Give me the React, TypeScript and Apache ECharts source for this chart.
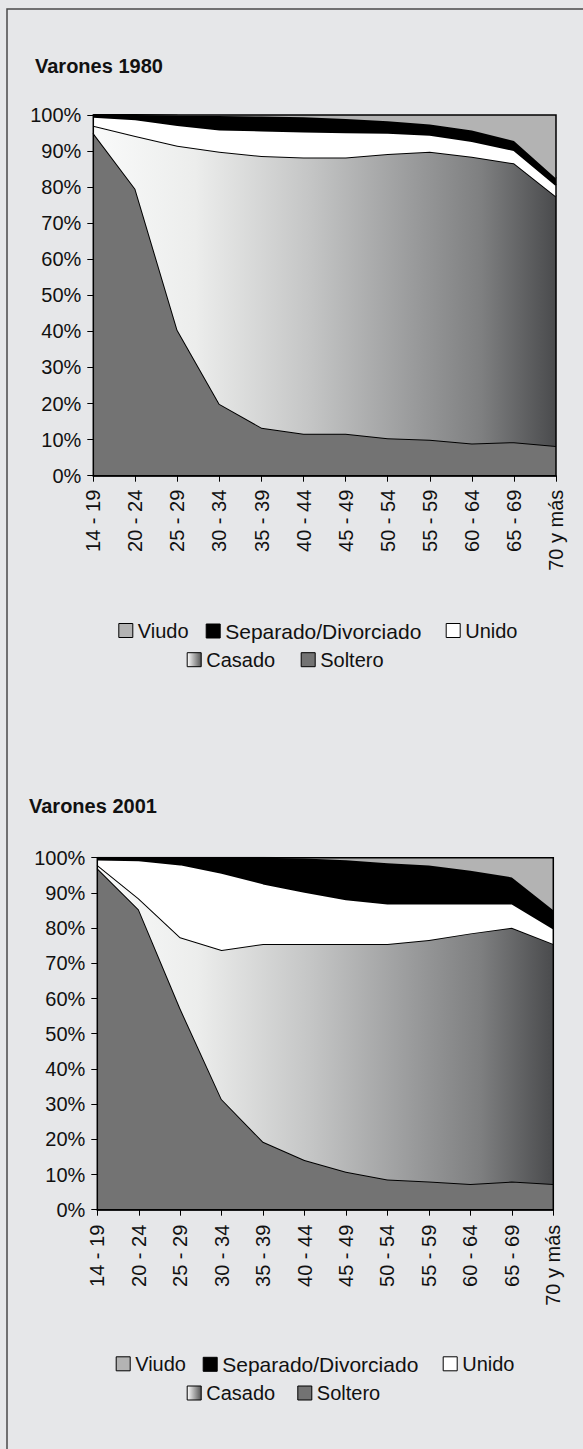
import React, { useEffect, useRef } from 'react';
import * as echarts from 'echarts';

const categories = ['14 - 19', '20 - 24', '25 - 29', '30 - 34', '35 - 39', '40 - 44', '45 - 49', '50 - 54', '55 - 59', '60 - 64', '65 - 69', '70 y más'];
const yTickLabels = ['0%', '10%', '20%', '30%', '40%', '50%', '60%', '70%', '80%', '90%', '100%'];
const seriesNames = ['Soltero', 'Casado', 'Unido', 'Separado/Divorciado', 'Viudo'];
const titles = ['Varones 1980', 'Varones 2001'];

// Varones 1980 (percent of each age group)
const soltero1980 = [95.0, 79.5, 40.4, 19.9, 13.3, 11.6, 11.6, 10.4, 10.0, 8.9, 9.3, 8.2];
const casado1980 = [2.0, 14.7, 51.1, 69.9, 75.3, 76.6, 76.6, 78.8, 79.8, 79.5, 77.3, 69.2];
const unido1980 = [2.5, 4.6, 5.7, 6.2, 7.1, 7.2, 7.0, 5.9, 4.7, 4.4, 3.7, 3.2];
const separado1980 = [0.5, 1.2, 2.6, 3.7, 3.9, 4.0, 3.7, 3.2, 2.9, 2.9, 2.5, 1.8];
const viudo1980 = [0, 0, 0.2, 0.3, 0.4, 0.6, 1.1, 1.7, 2.6, 4.3, 7.2, 17.6];

// Varones 2001
const soltero2001 = [97.0, 85.3, 57.2, 31.4, 19.3, 14.1, 10.8, 8.6, 8.0, 7.3, 8.0, 7.3];
const casado2001 = [0.9, 3.1, 20.2, 42.4, 56.2, 61.4, 64.7, 66.9, 68.6, 71.2, 72.1, 68.2];
const unido2001 = [1.6, 10.9, 20.7, 21.9, 17.2, 14.8, 12.7, 11.5, 10.4, 8.5, 6.9, 4.4];
const separado2001 = [0.5, 0.7, 1.9, 4.3, 7.3, 9.5, 11.1, 11.4, 10.8, 9.3, 7.4, 5.2];
const viudo2001 = [0, 0, 0, 0, 0, 0.2, 0.7, 1.6, 2.2, 3.7, 5.6, 14.9];

const FONT = '"Liberation Sans", Arial, sans-serif';
const BG = '#e6e7e9';
const TEXT = '#111111';
const SOLTERO_COLOR = '#737373';
const VIUDO_COLOR = '#b3b3b3';
const UNIDO_COLOR = '#ffffff';
const SEP_COLOR = '#000000';

function casadoGradient() {
  return new echarts.graphic.LinearGradient(0, 0, 1, 0, [
    { offset: 0, color: '#f9fafa' },
    { offset: 0.22, color: '#ecedec' },
    { offset: 0.47, color: '#c4c5c5' },
    { offset: 0.69, color: '#9a9b9c' },
    { offset: 0.84, color: '#7e7f80' },
    { offset: 1, color: '#4a4b4d' },
  ]);
}

function buildSeries(idx: number, data: number[][]) {
  const fills = [SOLTERO_COLOR, casadoGradient(), UNIDO_COLOR, SEP_COLOR, VIUDO_COLOR];
  return seriesNames.map((name, i) => ({
    name,
    type: 'line',
    xAxisIndex: idx,
    yAxisIndex: idx,
    stack: 'total' + idx,
    data: data[i],
    symbol: 'none',
    smooth: false,
    itemStyle: { color: typeof fills[i] === 'string' ? fills[i] : '#cccccc' },
    lineStyle: { color: '#000', width: i === 4 ? 0 : 2 },
    areaStyle: { color: fills[i], opacity: 1 },
    z: 2 + i,
  }));
}

function legendItem(name: string, left: number, centerY: number, color: any, fontSize = 20) {
  return {
    show: true,
    left,
    top: centerY - 10,
    padding: 0,
    itemWidth: 14,
    itemHeight: 14,
    icon: 'rect',
    selectedMode: false,
    data: [{ name, itemStyle: { color, borderColor: '#000', borderWidth: 1 } }],
    textStyle: { fontSize, color: TEXT, fontFamily: FONT },
  };
}

export default function App() {
  const ref = useRef<HTMLDivElement>(null);
  useEffect(() => {
    document.body.style.margin = '0';
    const chart = echarts.init(ref.current!, null, { renderer: 'svg' });
    const grids = [
      { left: 93.3, top: 115, width: 462.7, height: 360.7 },
      { left: 97.3, top: 857.7, width: 456, height: 352 },
    ];
    const xLabelMargin = [14, 15];
    const casadoIcon = () =>
      new echarts.graphic.LinearGradient(0, 0, 1, 0, [
        { offset: 0, color: '#ffffff' },
        { offset: 1, color: '#555555' },
      ]);
    const option: any = {
      animation: false,
      backgroundColor: BG,
      grid: grids.map((g) => ({ ...g, show: true, borderColor: '#000', borderWidth: 1.5, z: 10, backgroundColor: 'transparent' })),
      xAxis: grids.map((_, i) => ({
        gridIndex: i,
        type: 'category',
        data: categories,
        boundaryGap: false,
        axisLine: { show: true, lineStyle: { color: '#000', width: 1.5 } },
        axisTick: { show: true, length: 6, interval: 0, lineStyle: { color: '#000', width: 1 } },
        axisLabel: { interval: 0, rotate: 90, fontSize: 20, margin: xLabelMargin[i], color: TEXT, fontFamily: FONT },
        splitLine: { show: false },
      })),
      yAxis: grids.map((_, i) => ({
        gridIndex: i,
        type: 'value',
        min: 0,
        max: 100,
        interval: 10,
        axisLine: { show: true, lineStyle: { color: '#000', width: 1.5 } },
        axisTick: { show: true, length: 6, lineStyle: { color: '#000', width: 1 } },
        axisLabel: {
          fontSize: 20,
          margin: 12,
          color: TEXT,
          fontFamily: FONT,
          formatter: (v: number) => yTickLabels[Math.round(v / 10)],
        },
        splitLine: { show: false },
      })),
      legend: [
        legendItem('Viudo', 118.3, 630.5, VIUDO_COLOR),
        legendItem('Separado/Divorciado', 205.7, 630.5, SEP_COLOR, 21),
        legendItem('Unido', 445.7, 630.5, UNIDO_COLOR),
        legendItem('Casado', 186.7, 659.7, casadoIcon()),
        legendItem('Soltero', 300.7, 659.7, SOLTERO_COLOR),
        legendItem('Viudo', 115.7, 1363.8, VIUDO_COLOR),
        legendItem('Separado/Divorciado', 202.7, 1363.8, SEP_COLOR, 21),
        legendItem('Unido', 442.7, 1363.8, UNIDO_COLOR),
        legendItem('Casado', 186.7, 1393, casadoIcon()),
        legendItem('Soltero', 297.3, 1393, SOLTERO_COLOR),
      ],
      graphic: [
        {
          type: 'rect',
          silent: true,
          shape: { x: 7, y: 9, width: 700, height: 1600 },
          style: { fill: 'none', stroke: '#4a4a4a', lineWidth: 1.5 },
        },
        {
          type: 'text',
          x: 35,
          y: 65.8,
          style: { text: titles[0], fontSize: 20, fontWeight: 'bold', fontFamily: FONT, fill: TEXT, verticalAlign: 'middle' },
        },
        {
          type: 'text',
          x: 29,
          y: 806,
          style: { text: titles[1], fontSize: 20, fontWeight: 'bold', fontFamily: FONT, fill: TEXT, verticalAlign: 'middle' },
        },
      ],
      series: [
        ...buildSeries(0, [soltero1980, casado1980, unido1980, separado1980, viudo1980]),
        ...buildSeries(1, [soltero2001, casado2001, unido2001, separado2001, viudo2001]),
      ],
    };
    chart.setOption(option);
    return () => chart.dispose();
  }, []);
  return <div ref={ref} style={{ width: 583, height: 1449 }} />;
}
